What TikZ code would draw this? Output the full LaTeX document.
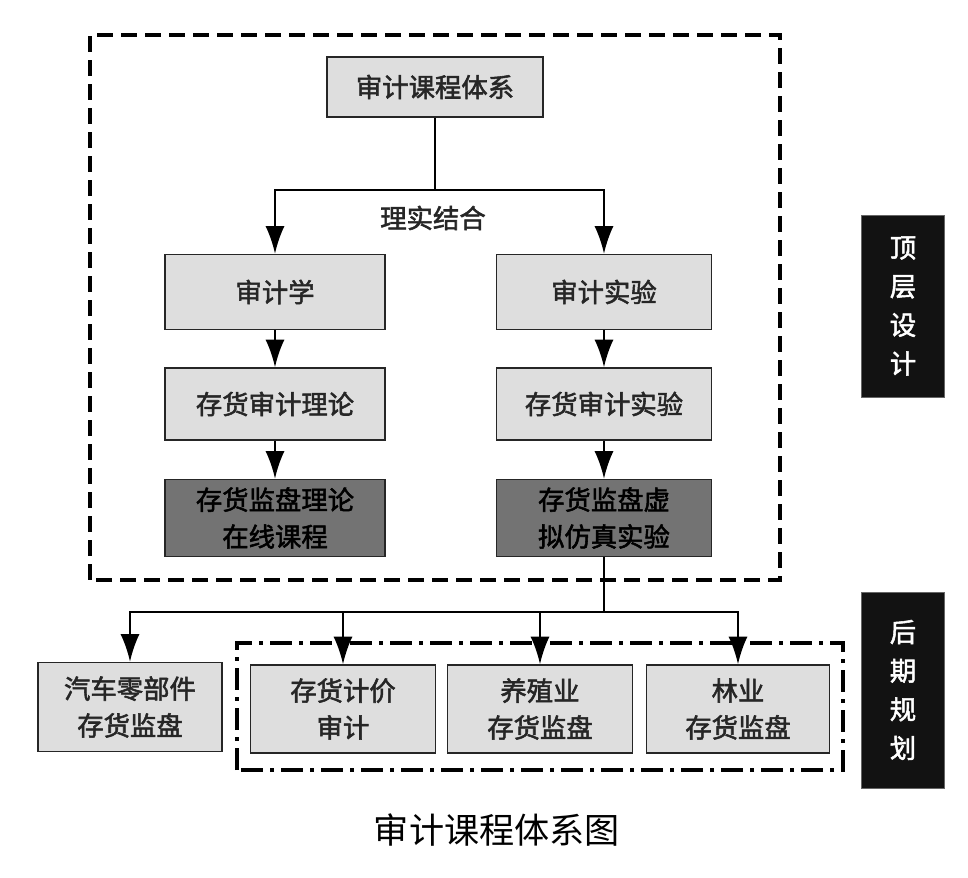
\documentclass[tikz,border=0pt]{standalone}
\usepackage{fontspec}
\setmainfont[AutoFakeBold=2]{Noto Sans CJK SC}
\usetikzlibrary{arrows.meta}
\begin{document}
\begin{tikzpicture}[
    box/.style={draw=black!85,line width=0.9pt,fill=black!13,inner sep=0pt,
        minimum width=4.4cm,minimum height=1.5cm,align=center,
        font=\fontsize{15}{21}\selectfont\bfseries,text=black!85},
    darkbox/.style={box,fill=black!55,text=black},
    lowbox/.style={box,minimum width=3.7cm,minimum height=1.76cm},
    tagbox/.style={draw=black!60,fill=black!93,text=white,inner sep=0pt,
        minimum width=1.66cm,align=center,
        font=\fontsize{15}{22}\selectfont\bfseries},
    arr/.style={-{Latex[length=5.5mm,width=3.8mm]},line width=1.1pt},
    link/.style={line width=1.1pt}]
    \useasboundingbox (0,0) rectangle (19.36,17.54);

    %%%%%%%%%% Cornici %%%%%%%%%%
    \draw[line width=2.2pt,dash pattern=on 0.32cm off 0.16cm] (1.8,5.94) rectangle (15.6,16.84);
    \draw[line width=2.2pt,dash pattern=on 0.44cm off 0.14cm on 0.08cm off 0.14cm] (4.74,2.14) rectangle (16.86,4.68);

    %%%%%%%%%% Nodi %%%%%%%%%%
    \node[box,minimum width=4.32cm,minimum height=1.2cm] (corso) at (8.70,15.80) {审计课程体系};
    \node[box] (teoria) at (5.50,11.70) {审计学};
    \node[box,minimum width=4.3cm] (prova) at (12.08,11.70) {审计实验};
    \node[box,minimum height=1.44cm] (teoria2) at (5.50,9.46) {存货审计理论};
    \node[box,minimum width=4.3cm,minimum height=1.44cm] (prova2) at (12.08,9.46) {存货审计实验};
    \node[darkbox,minimum height=1.54cm] (online) at (5.50,7.18) {存货监盘理论\\在线课程};
    \node[darkbox,minimum width=4.3cm,minimum height=1.54cm] (virtuale) at (12.08,7.18) {存货监盘虚\\拟仿真实验};
    \node[lowbox,minimum width=3.68cm,minimum height=1.78cm] (auto) at (2.60,3.40) {汽车零部件\\存货监盘};
    \node[lowbox] (prezzo) at (6.86,3.36) {存货计价\\审计};
    \node[lowbox] (alleva) at (10.80,3.36) {养殖业\\存货监盘};
    \node[lowbox,minimum width=3.66cm] (bosco) at (14.76,3.36) {林业\\存货监盘};
    \node[tagbox,minimum height=3.64cm] (alto) at (18.06,11.42) {顶\\层\\设\\计};
    \node[tagbox,minimum height=3.92cm] (dopo) at (18.06,3.74) {后\\期\\规\\划};
    \node[font=\fontsize{15}{18}\selectfont\bfseries,text=black!85] (unione) at (8.66,13.18) {理实结合};
    \node[font=\fontsize{20}{24}\selectfont] (titolo) at (9.94,0.94) {审计课程体系图};

    \coordinate (bivio) at (8.70,13.74);
    \coordinate (ramo) at (12.08,5.30);

    %%%%%%%%% Frecce %%%%%%%%%
    \draw[link] (corso.south) -- (bivio);
    \draw[arr] (bivio) -| (teoria.north);
    \draw[arr] (bivio) -| (prova.north);
    \draw[arr] (teoria) -- (teoria2);
    \draw[arr] (prova) -- (prova2);
    \draw[arr] (teoria2) -- (online);
    \draw[arr] (prova2) -- (virtuale);
    \draw[link] (virtuale.south) -- (ramo);
    \draw[arr] (ramo) -| (auto.north);
    \draw[arr] (ramo) -| (prezzo.north);
    \draw[arr] (ramo) -| (alleva.north);
    \draw[arr] (ramo) -| (bosco.north);
\end{tikzpicture}
\end{document}
